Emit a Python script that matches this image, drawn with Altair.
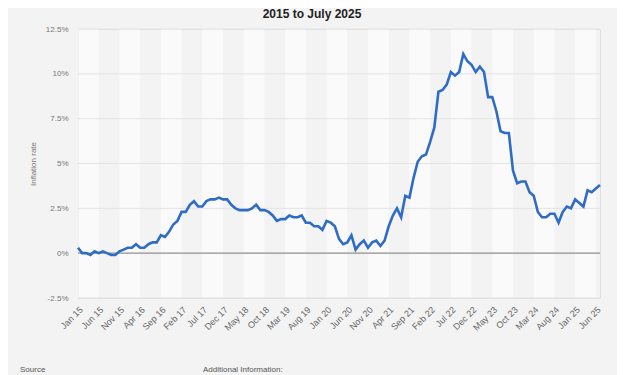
import json
import altair as alt
import pandas as pd

# UK CPI inflation rate, monthly, Jan 2015 - Jul 2025 (%)
inflation = [
    0.3, 0.0, 0.0, -0.1, 0.1, 0.0, 0.1, 0.0, -0.1, -0.1, 0.1, 0.2,   # 2015
    0.3, 0.3, 0.5, 0.3, 0.3, 0.5, 0.6, 0.6, 1.0, 0.9, 1.2, 1.6,      # 2016
    1.8, 2.3, 2.3, 2.7, 2.9, 2.6, 2.6, 2.9, 3.0, 3.0, 3.1, 3.0,      # 2017
    3.0, 2.7, 2.5, 2.4, 2.4, 2.4, 2.5, 2.7, 2.4, 2.4, 2.3, 2.1,      # 2018
    1.8, 1.9, 1.9, 2.1, 2.0, 2.0, 2.1, 1.7, 1.7, 1.5, 1.5, 1.3,      # 2019
    1.8, 1.7, 1.5, 0.8, 0.5, 0.6, 1.0, 0.2, 0.5, 0.7, 0.3, 0.6,      # 2020
    0.7, 0.4, 0.7, 1.5, 2.1, 2.5, 2.0, 3.2, 3.1, 4.2, 5.1, 5.4,      # 2021
    5.5, 6.2, 7.0, 9.0, 9.1, 9.4, 10.1, 9.9, 10.1, 11.1, 10.7, 10.5, # 2022
    10.1, 10.4, 10.1, 8.7, 8.7, 7.9, 6.8, 6.7, 6.7, 4.6, 3.9, 4.0,   # 2023
    4.0, 3.4, 3.2, 2.3, 2.0, 2.0, 2.2, 2.2, 1.7, 2.3, 2.6, 2.5,      # 2024
    3.0, 2.8, 2.6, 3.5, 3.4, 3.6, 3.8,                               # 2025
]

tick_labels = [
    "Jan 15", "Jun 15", "Nov 15", "Apr 16", "Sep 16", "Feb 17", "Jul 17",
    "Dec 17", "May 18", "Oct 18", "Mar 19", "Aug 19", "Jan 20", "Jun 20",
    "Nov 20", "Apr 21", "Sep 21", "Feb 22", "Jul 22", "Dec 22", "May 23",
    "Oct 23", "Mar 24", "Aug 24", "Jan 25", "Jun 25",
]
tick_step = 5
y_ticks = [-2.5, 0, 2.5, 5, 7.5, 10, 12.5]

W, H = 522, 269
df = pd.DataFrame({"m": list(range(len(inflation))), "rate": inflation})
tick_pos = [i * tick_step for i in range(len(tick_labels))]
bands = pd.DataFrame({"m": tick_pos[::2]})
bands["m2"] = bands["m"] + tick_step
grid = pd.DataFrame({"rate": [v for v in y_ticks if v != 0]})
zero = pd.DataFrame({"rate": [0]})

x_scale = alt.Scale(domain=[0, len(inflation) - 1], nice=False, zero=False)
y_scale = alt.Scale(domain=[y_ticks[0], y_ticks[-1]], nice=False)

label_expr = json.dumps(tick_labels) + "[round(datum.value / %d)]" % tick_step

x_axis = alt.Axis(
    values=tick_pos, labelExpr=label_expr, labelAngle=-45, labelOverlap=False,
    labelFontSize=9, labelColor="#666666", labelPadding=7,
    title=None, domain=False, ticks=False, grid=False,
)
y_axis = alt.Axis(
    values=y_ticks, labelExpr="datum.value + '%'",
    labelFontSize=8, labelColor="#777777", labelPadding=10,
    title="Inflation rate", titleFontSize=8, titleFontWeight="normal",
    titleColor="#777777", titlePadding=8,
    domain=False, ticks=False, grid=False,
)

band_layer = alt.Chart(bands).mark_rect(color="#ffffff", opacity=0.55).encode(
    x=alt.X("m:Q", scale=x_scale, axis=x_axis),
    x2="m2:Q",
    y=alt.value(0),
    y2=alt.value(H),
)

grid_layer = alt.Chart(grid).mark_rule(color="#e3e3e3", strokeWidth=1).encode(
    y=alt.Y("rate:Q", scale=y_scale, axis=y_axis),
)

zero_layer = alt.Chart(zero).mark_rule(color="#8f8f8f", strokeWidth=1.2).encode(
    y=alt.Y("rate:Q", scale=y_scale, axis=y_axis),
)

line_layer = alt.Chart(df).mark_line(color="#2f6cc6", strokeWidth=2.6).encode(
    x=alt.X("m:Q", scale=x_scale, axis=x_axis),
    y=alt.Y("rate:Q", scale=y_scale, axis=y_axis),
)

title_text = alt.Chart(pd.DataFrame({"t": ["2015 to July 2025"]})).mark_text(
    fontSize=12, fontWeight="bold", color="#222222", align="center", baseline="alphabetic"
).encode(text="t:N", x=alt.value(234), y=alt.value(-11))

foot = pd.DataFrame({"t": ["Source", "Additional Information:"], "px": [-58, 125]})
foot_text = alt.Chart(foot).mark_text(
    fontSize=8, color="#555555", align="left", baseline="middle"
).encode(text="t:N", x=alt.X("px:Q", scale=None), y=alt.value(341))

chart = alt.layer(
    band_layer, grid_layer, zero_layer, line_layer, title_text, foot_text
).properties(
    width=W, height=H,
    autosize=alt.AutoSizeParams(type="none"),
    padding={"left": 70, "top": 21, "right": 17, "bottom": 77},
    background="#f3f3f3",
).configure_view(stroke=None).configure(font="Liberation Sans")

chart.save("out.html", embed_options={"renderer": "svg", "actions": False})
